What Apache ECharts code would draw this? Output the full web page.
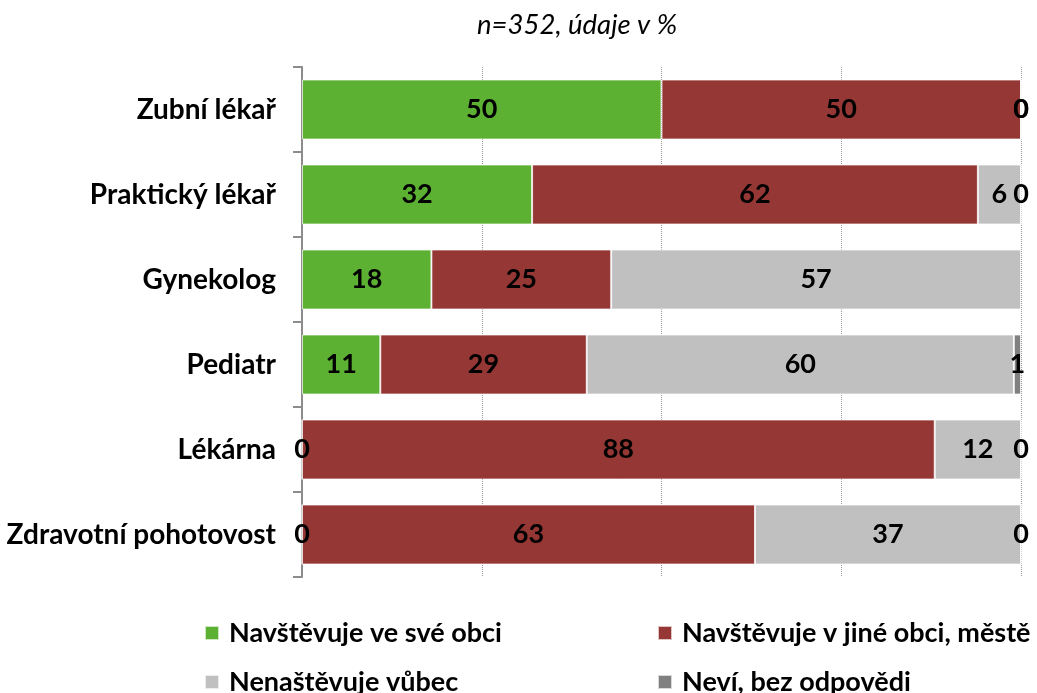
<!DOCTYPE html>
<html>
<head>
<meta charset="utf-8">
<script src="https://cdn.jsdelivr.net/npm/echarts@6/dist/echarts.min.js"></script>
<style>
  html, body { margin: 0; padding: 0; background: #fff; }
  #chart { width: 1037px; height: 693px; }
</style>
</head>
<body>
<div id="chart"></div>
<script>
const categories = ['Zubní lékař', 'Praktický lékař', 'Gynekolog', 'Pediatr', 'Lékárna', 'Zdravotní pohotovost']
const seriesNames = ['Navštěvuje ve své obci', 'Navštěvuje v jiné obci, městě', 'Nenaštěvuje vůbec', 'Neví, bez odpovědi']
const visitLocal = [50, 32, 18, 11, 0, 0]
const visitElsewhere = [50, 62, 25, 29, 88, 63]
const notVisit = [0, 6, 57, 60, 12, 37]
const dontKnow = [0, 0, null, 1, 0, 0]
const seriesColors = ['#5cb133', '#953735', '#c0c0c0', '#808080']

const FONT = 'Lato, "Open Sans", sans-serif'
const allRows = [visitLocal, visitElsewhere, notVisit, dontKnow]

// 100% stacked: each row is scaled to its own total, labels keep the raw numbers
const rowTotals = categories.map((c, i) => allRows.reduce((s, arr) => s + (arr[i] || 0), 0))

const makeSeries = (idx) => ({
  name: seriesNames[idx],
  type: 'bar',
  stack: 'total',
  data: allRows[idx].map((v, i) => (v === null ? null : { value: v * 100 / rowTotals[i], raw: v })),
  barWidth: 60,
  itemStyle: { color: seriesColors[idx], borderColor: 'rgba(255,255,255,0.7)', borderWidth: 1 },
  label: {
    show: true,
    position: 'inside',
    color: '#000',
    fontFamily: FONT,
    fontWeight: 'bold',
    fontSize: 27,
    formatter: (p) => p.data.raw
  }
})

const legendText = { fontFamily: FONT, fontWeight: 'bold', fontSize: 27, color: '#000', lineHeight: 30, padding: [0, 0, 0, 5] }
const makeLegend = (idx, left, top) => ({
  data: [seriesNames[idx]],
  left: left,
  top: top,
  itemWidth: 14,
  itemHeight: 14,
  icon: 'rect',
  padding: 0,
  textStyle: legendText
})

const chart = echarts.init(document.getElementById('chart'))

chart.setOption({
  animation: false,
  title: {
    text: 'n=352, údaje v %',
    left: 477,
    top: 12,
    padding: 0,
    textStyle: {
      fontFamily: FONT,
      fontStyle: 'italic',
      fontWeight: 'normal',
      fontSize: 27.5,
      color: '#000'
    }
  },
  legend: [
    makeLegend(0, 204, 618),
    makeLegend(1, 657, 618),
    makeLegend(2, 204, 667),
    makeLegend(3, 657, 667)
  ],
  grid: {
    left: 302,
    right: 16,
    top: 67,
    bottom: 116
  },
  xAxis: {
    type: 'value',
    min: 0,
    max: 100,
    interval: 25,
    axisLabel: { show: false },
    axisLine: { show: false },
    axisTick: { show: false },
    splitLine: { lineStyle: { type: 'dotted', color: '#999', width: 1 } }
  },
  yAxis: {
    type: 'category',
    inverse: true,
    data: categories,
    axisLine: { show: true, lineStyle: { color: '#8c8c8c', width: 2 } },
    axisTick: { show: true, inside: false, length: 9, lineStyle: { color: '#8c8c8c', width: 2 } },
    axisLabel: {
      margin: 26,
      color: '#000',
      fontFamily: FONT,
      fontWeight: 'bold',
      fontSize: 28
    }
  },
  series: [0, 1, 2, 3].map(makeSeries)
})

window.addEventListener('resize', () => {
  chart.resize()
})
</script>
</body>
</html>
